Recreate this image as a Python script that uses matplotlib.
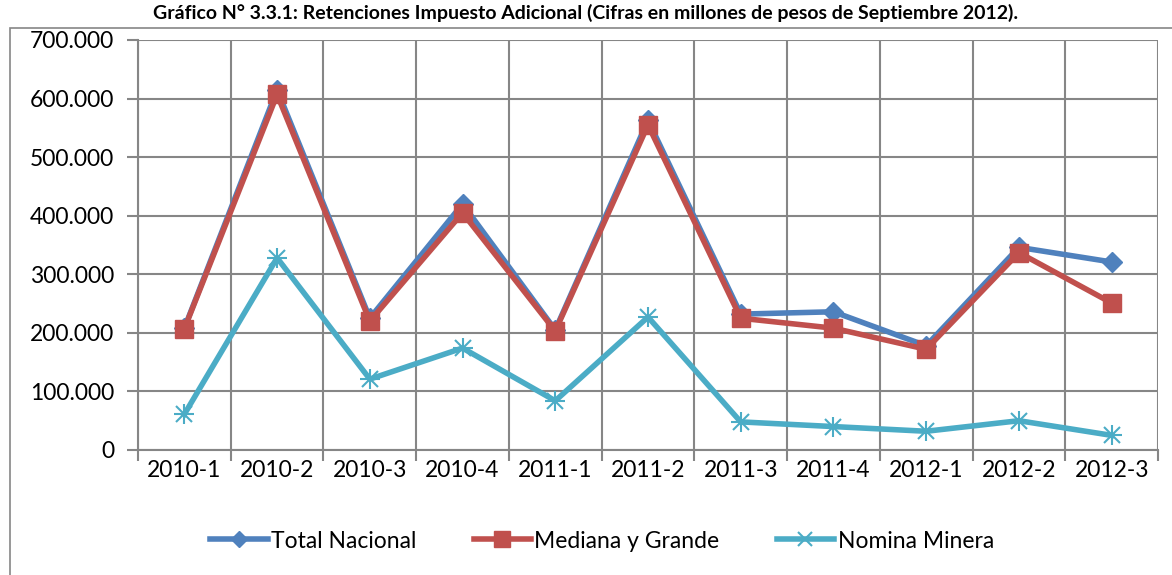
import matplotlib
matplotlib.use("Agg")
from matplotlib import pyplot as plt
from matplotlib.patches import Rectangle
import numpy as np

periods = ["2010-1", "2010-2", "2010-3", "2010-4", "2011-1", "2011-2",
           "2011-3", "2011-4", "2012-1", "2012-2", "2012-3"]
total_nacional = [208000, 615000, 225000, 420000, 205000, 563000,
                  232000, 236000, 178000, 346000, 321000]
mediana_grande = [207000, 607000, 220000, 405000, 203000, 555000,
                  225000, 208000, 172000, 337000, 251000]
nomina_minera = [61000, 328000, 121000, 174000, 84000, 227000,
                 48000, 40000, 32000, 50000, 25000]

title = "Gráfico N° 3.3.1: Retenciones Impuesto Adicional (Cifras en millones de pesos de Septiembre 2012)."

plt.rcParams['font.family'] = ['Lato', 'DejaVu Sans']

fig = plt.figure(figsize=(11.72, 5.75), dpi=100)
ax = fig.add_axes([138 / 1172, 1 - 450 / 575, 1020 / 1172, 410 / 575])

# chart border
fig.patches.append(Rectangle((10 / 1172, -0.1), 1.2, 1 - 28 / 575 + 0.1,
                             transform=fig.transFigure, fill=False,
                             edgecolor="#868686", linewidth=1.2))

fig.text(0.5, 1 - 13 / 575, title, ha="center", va="center", fontsize=14,
         fontweight="bold")

x = np.arange(len(periods))
ax.plot(x, total_nacional, color="#4F81BD", linewidth=4, marker="D",
        markersize=10, label="Total Nacional")
ax.plot(x, mediana_grande, color="#C0504D", linewidth=4, marker="s",
        markersize=13, label="Mediana y Grande")
ax.plot(x, nomina_minera, color="#4BACC6", linewidth=4, marker="x",
        markersize=12, markeredgewidth=1.5, label="Nomina Minera")
ax.plot(x, nomina_minera, color="#4BACC6", linewidth=0, marker="+",
        markersize=14, markeredgewidth=1.5)

ax.set_xlim(-0.5, len(periods) - 0.5)
ax.set_ylim(0, 700000)
ax.set_yticks(np.arange(0, 700001, 100000))
ax.set_yticklabels(["0"] + [f"{v // 1000}.000" for v in range(100000, 700001, 100000)])
ax.set_xticks(x)
ax.set_xticklabels(periods)
ax.set_xticks(np.arange(-0.5, len(periods)), minor=True)
ax.tick_params(axis="x", which="major", length=0, pad=7, labelsize=16.5)
ax.tick_params(axis="x", which="minor", length=8, color="#868686", width=1.5)
ax.tick_params(axis="y", length=8, color="#868686", width=1.5, labelsize=16.5, pad=9)
ax.grid(True, axis="y", color="#868686", linewidth=1.5)
ax.grid(True, axis="x", which="minor", color="#868686", linewidth=1.5)
for side in ["top", "right", "left", "bottom"]:
    ax.spines[side].set_color("#868686")
    ax.spines[side].set_linewidth(1.5)
ax.spines["top"].set_visible(False)
ax.spines["right"].set_visible(False)
ax.set_axisbelow(True)

fig.legend(loc="center", bbox_to_anchor=(0.5 + 16 / 1172, 1 - 541 / 575), ncol=3,
           frameon=False, fontsize=16.5, handlelength=2.5, columnspacing=2.5,
           handletextpad=0.15, markerscale=0.85)

fig.savefig("out.png", dpi=100)
